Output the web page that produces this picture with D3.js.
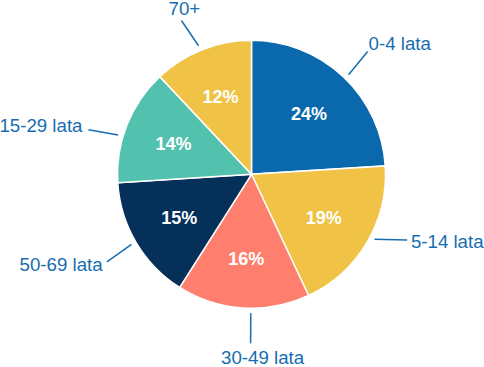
<!DOCTYPE html>
<html>
<head>
<meta charset="utf-8">
<script src="https://cdn.jsdelivr.net/npm/d3@7"></script>
<style>
  body { margin: 0; background: #fff; }
  svg { display: block; }
  .lbl { font-family: "Liberation Sans", Arial, sans-serif; font-size: 18.7px; fill: #176db1; }
  .pct { font-family: "Liberation Sans", Arial, sans-serif; font-size: 18px; font-weight: bold; fill: #fff; }
</style>
</head>
<body>
<div id="chart"></div>
<script>
var categories = ["0-4 lata", "5-14 lata", "30-49 lata", "50-69 lata", "15-29 lata", "70+"],
    values = [24, 19, 16, 15, 14, 12],
    colors = ["#0a69ad", "#f0c245", "#fe7f6e", "#04305a", "#52c1ae", "#f0c245"];

// leader line angles (deg, start / end) and text nudges, per slice
var leader = [[44.3, 43.4], [117.8, 112.9], [180.3, 180.3], [239.7, 238.8], [286.4, 285.3], [337.6, 335.5]],
    textPos = [
      { dx: 1, dy: -1.7, anchor: "start" },
      { dx: 3.7, dy: 8, anchor: "start" },
      { dx: 12, dy: 21, anchor: "middle" },
      { dx: -4.3, dy: 8.7, anchor: "end" },
      { dx: -6, dy: 2.4, anchor: "end" },
      { dx: 3, dy: -5.5, anchor: "middle" }
    ];

var width = 484, height = 367,
    cx = 251.5, cy = 174.3,
    radius = 134,
    r1 = 139, r2 = 169;

var svg = d3.select("#chart").append("svg")
    .attr("width", width)
    .attr("height", height);

var g = svg.append("g")
    .attr("transform", "translate(" + cx + "," + cy + ")");

var data = categories.map(function(c, i) { return { name: c, value: values[i], i: i }; });

var pie = d3.pie().sort(null).value(function(d) { return d.value; });
var arc = d3.arc().innerRadius(0).outerRadius(radius);
var labelArc = d3.arc().innerRadius(84).outerRadius(84);

var arcs = pie(data);

g.selectAll(".slice")
    .data(arcs)
    .enter().append("path")
      .attr("class", "slice")
      .attr("d", arc)
      .style("fill", function(d) { return colors[d.data.i]; })
      .style("stroke", "#fff")
      .style("stroke-width", 1.5);

g.selectAll(".pct")
    .data(arcs)
    .enter().append("text")
      .attr("class", "pct")
      .attr("transform", function(d) { return "translate(" + labelArc.centroid(d) + ")"; })
      .attr("dy", "0.38em")
      .style("text-anchor", "middle")
      .text(function(d) { return d.data.value + "%"; });

function polar(deg, r) {
  var a = deg * Math.PI / 180;
  return [r * Math.sin(a), -r * Math.cos(a)];
}

g.selectAll(".leader")
    .data(arcs)
    .enter().append("line")
      .attr("class", "leader")
      .attr("x1", function(d) { return polar(leader[d.data.i][0], r1)[0]; })
      .attr("y1", function(d) { return polar(leader[d.data.i][0], r1)[1]; })
      .attr("x2", function(d) { return polar(leader[d.data.i][1], r2)[0]; })
      .attr("y2", function(d) { return polar(leader[d.data.i][1], r2)[1]; })
      .style("stroke", "#176db1")
      .style("stroke-width", 1.5);

g.selectAll(".lbl")
    .data(arcs)
    .enter().append("text")
      .attr("class", "lbl")
      .attr("x", function(d) { return polar(leader[d.data.i][1], r2)[0] + textPos[d.data.i].dx; })
      .attr("y", function(d) { return polar(leader[d.data.i][1], r2)[1] + textPos[d.data.i].dy; })
      .style("text-anchor", function(d) { return textPos[d.data.i].anchor; })
      .text(function(d) { return d.data.name; });
</script>
</body>
</html>
